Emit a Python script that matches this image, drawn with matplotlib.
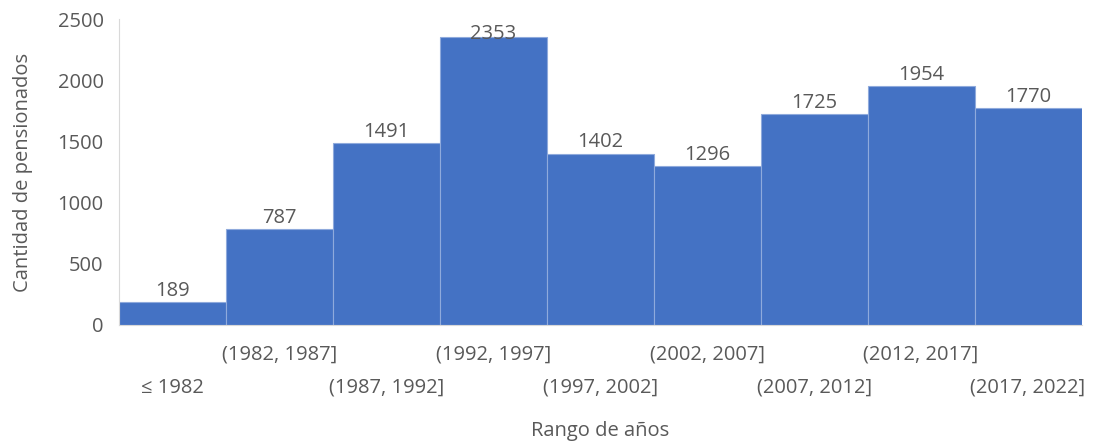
import numpy as np
import matplotlib
matplotlib.use("Agg")
import matplotlib.pyplot as plt

# rangos de años y cantidad de pensionados
rangos = ["≤ 1982", "(1982, 1987]", "(1987, 1992]", "(1992, 1997]", "(1997, 2002]",
          "(2002, 2007]", "(2007, 2012]", "(2012, 2017]", "(2017, 2022]"]
pensionados = [189, 787, 1491, 2353, 1402, 1296, 1725, 1954, 1770]

plt.rcParams['font.family'] = ['Open Sans', 'DejaVu Sans']
gris = '#595959'
fs = 14.5

fig = plt.figure(figsize=(10.93, 4.47), dpi=100)
ax = fig.add_axes([0.1089, 0.273, 0.8806, 0.684])

x = np.arange(len(rangos))
ax.bar(x, pensionados, width=1.0, color='#4472C4', edgecolor='#8faadc', linewidth=0.8)

ax.set_xlim(-0.5, len(rangos) - 0.5)
ax.set_ylim(0, 2500)
ax.set_yticks(np.arange(0, 2501, 500))

# etiquetas de datos (Excel las baja si no caben arriba)
for xi, v in zip(x, pensionados):
    ax.text(xi, min(v + 50, 2335), str(v), ha='center', va='baseline',
            fontsize=fs, color=gris)

# etiquetas del eje x escalonadas
ax.set_xticks(x[::2])
ax.set_xticklabels(rangos[::2])
ax.set_xticks(x[1::2], minor=True)
ax.set_xticklabels(rangos[1::2], minor=True)
ax.tick_params(axis='x', which='major', length=0, pad=38, labelsize=fs, labelcolor=gris)
ax.tick_params(axis='x', which='minor', length=0, pad=14, labelsize=fs, labelcolor=gris)
ax.tick_params(axis='y', length=0, pad=11, labelsize=fs, labelcolor=gris)

for s in ['top', 'right']:
    ax.spines[s].set_visible(False)
ax.spines['left'].set_color('#d9d9d9')
ax.spines['bottom'].set_color('#d9d9d9')

ax.set_xlabel("Rango de años", fontsize=fs, color=gris, labelpad=17)
ax.set_ylabel("Cantidad de pensionados", fontsize=fs, color=gris, labelpad=18)

fig.savefig("out.png", dpi=100)
